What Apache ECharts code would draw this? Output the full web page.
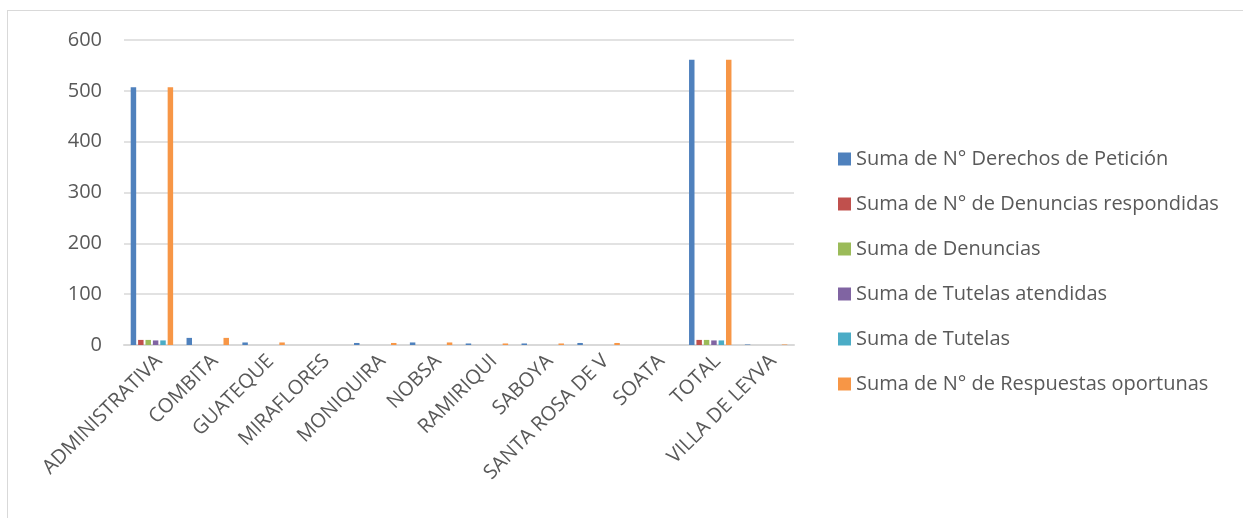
<!DOCTYPE html>
<html>
<head>
<meta charset="utf-8">
<title>Suma por dependencia</title>
<script src="https://cdn.jsdelivr.net/npm/echarts@6/dist/echarts.min.js"></script>
<style>
  html, body { margin: 0; padding: 0; background: #fff; }
  /* marco gris del gráfico, solo arriba e izquierda como en la imagen */
  #marco {
    position: absolute; left: 7px; top: 10px; width: 1236px; height: 508px;
    border-left: 1px solid #d9d9d9; border-top: 1px solid #d9d9d9;
  }
  #chart { position: absolute; left: 0; top: 0; width: 1243px; height: 518px; }
</style>
</head>
<body>
<div id="marco"></div>
<div id="chart"></div>
<script>
// categorias del eje X
var dependencias = ['ADMINISTRATIVA', 'COMBITA', 'GUATEQUE', 'MIRAFLORES', 'MONIQUIRA', 'NOBSA',
  'RAMIRIQUI', 'SABOYA', 'SANTA ROSA DE V', 'SOATA', 'TOTAL', 'VILLA DE LEYVA'];

// valores
var derechosPeticion   = [507, 14, 5, 0, 4, 5, 3, 3, 4, 0, 561, 1];
var denunciasResp      = [10, 0, 0, 0, 0, 0, 0, 0, 0, 0, 10, 0];
var denuncias          = [10, 0, 0, 0, 0, 0, 0, 0, 0, 0, 10, 0];
var tutelasAtendidas   = [9, 0, 0, 0, 0, 0, 0, 0, 0, 0, 9, 0];
var tutelas            = [9, 0, 0, 0, 0, 0, 0, 0, 0, 0, 9, 0];
var respuestasOport    = [507, 14, 5, 0, 4, 5, 3, 3, 4, 0, 561, 1];

var ticksY = [0, 100, 200, 300, 400, 500, 600];

var nombres = [
  'Suma de N° Derechos de Petición',
  'Suma de N° de Denuncias respondidas',
  'Suma de Denuncias',
  'Suma de Tutelas atendidas',
  'Suma de Tutelas',
  'Suma de N° de Respuestas oportunas'
];
var datos = [derechosPeticion, denunciasResp, denuncias, tutelasAtendidas, tutelas, respuestasOport];
var colores = ['#4f81bd', '#c0504d', '#9bbb59', '#8064a2', '#4bacc6', '#f79646'];

var fuente = '"Open Sans", Lato, sans-serif';

var myChart = echarts.init(document.getElementById('chart'));

var series = nombres.map(function (n, i) {
  return {
    name: n,
    type: 'bar',
    data: datos[i],
    barGap: '35%',
    barCategoryGap: '24%',
    itemStyle: { color: colores[i] }
  };
});

myChart.setOption({
  animation: false,
  color: colores,
  grid: { left: 124, right: 449, top: 40, bottom: 173, containLabel: false },
  legend: {
    orient: 'vertical',
    left: 833,
    top: 144,
    itemWidth: 13,
    itemHeight: 13,
    itemGap: 25,
    icon: 'rect',
    textStyle: { color: '#595959', fontSize: 20, fontFamily: fuente },
    data: nombres
  },
  xAxis: {
    type: 'category',
    data: dependencias,
    axisTick: { show: false },
    axisLine: { lineStyle: { color: '#d9d9d9', width: 2 } },
    axisLabel: {
      interval: 0,
      rotate: 45,
      color: '#595959',
      fontSize: 20,
      fontFamily: fuente,
      verticalAlign: 'top',
      margin: 6
    }
  },
  yAxis: {
    type: 'value',
    min: ticksY[0],
    max: ticksY[ticksY.length - 1],
    interval: 100,
    axisLine: { show: false },
    axisTick: { show: false },
    splitLine: { lineStyle: { color: '#d9d9d9', width: 1.5 } },
    axisLabel: { color: '#595959', fontSize: 20, fontFamily: fuente, margin: 22 }
  },
  series: series
});
</script>
</body>
</html>
